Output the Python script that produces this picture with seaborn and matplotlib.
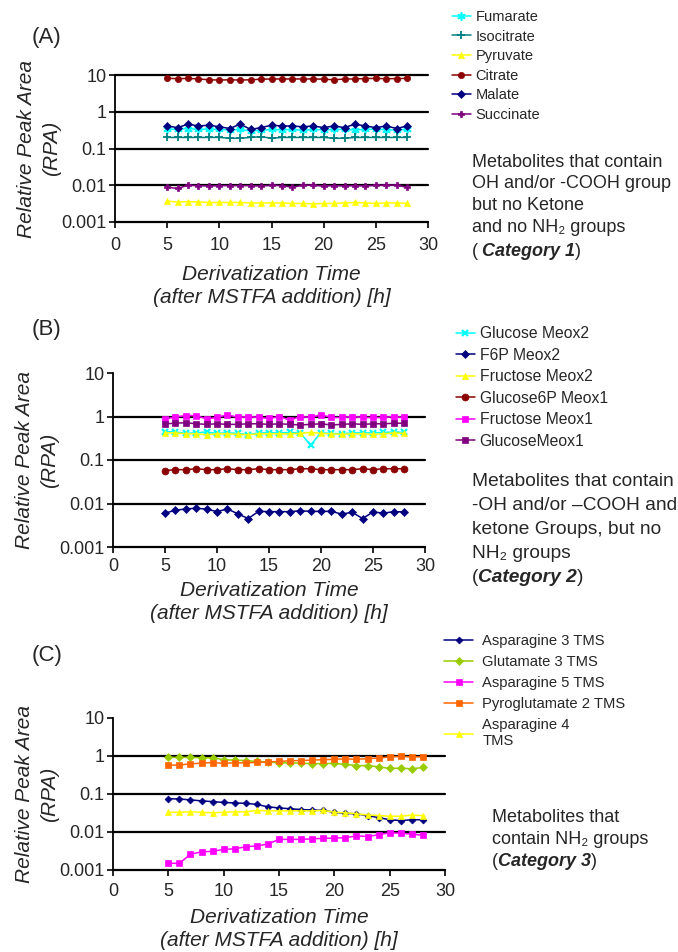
import matplotlib
matplotlib.use("Agg")
import matplotlib.pyplot as plt
from matplotlib.ticker import NullLocator
import seaborn as sns

# ---------------- data ----------------
time = list(range(5, 29))

# Panel A (Category 1)
fumarate = [0.34, 0.33, 0.35, 0.33, 0.34, 0.33, 0.32, 0.33, 0.30, 0.31, 0.33, 0.32,
            0.33, 0.31, 0.33, 0.32, 0.33, 0.33, 0.32, 0.33, 0.34, 0.32, 0.32, 0.33]
isocitrate = [0.20, 0.20, 0.20, 0.20, 0.20, 0.20, 0.19, 0.19, 0.20, 0.21, 0.19, 0.20,
              0.20, 0.20, 0.20, 0.20, 0.19, 0.19, 0.20, 0.20, 0.20, 0.20, 0.20, 0.20]
pyruvate = [0.0037, 0.0035, 0.0036, 0.0035, 0.0034, 0.0034, 0.0034, 0.0034, 0.0033, 0.0033,
            0.0033, 0.0033, 0.0032, 0.0032, 0.0031, 0.0032, 0.0032, 0.0033, 0.0034, 0.0033,
            0.0032, 0.0033, 0.0033, 0.0032]
citrate = [8.2, 7.9, 8.1, 7.8, 7.4, 7.3, 7.4, 7.3, 7.4, 7.7, 7.8, 7.8,
           7.8, 7.8, 7.8, 7.7, 7.4, 7.8, 7.8, 8.0, 8.1, 7.9, 8.0, 8.1]
malate = [0.41, 0.37, 0.46, 0.41, 0.43, 0.39, 0.35, 0.46, 0.33, 0.37, 0.43, 0.41,
          0.41, 0.39, 0.41, 0.37, 0.41, 0.37, 0.46, 0.41, 0.37, 0.41, 0.35, 0.41]
succinate = [0.0088, 0.0082, 0.0100, 0.0098, 0.0095, 0.0098, 0.0098, 0.0098, 0.0098, 0.0095,
             0.0100, 0.0098, 0.0088, 0.0100, 0.0100, 0.0095, 0.0098, 0.0095, 0.0098, 0.0095,
             0.0100, 0.0100, 0.0100, 0.0088]

# Panel B (Category 2)
glucose_meox2 = [0.45, 0.44, 0.41, 0.42, 0.44, 0.41, 0.42, 0.41, 0.38, 0.42, 0.42, 0.42,
                 0.43, 0.42, 0.22, 0.42, 0.41, 0.40, 0.42, 0.42, 0.42, 0.43, 0.44, 0.43]
f6p_meox2 = [0.0060, 0.0070, 0.0075, 0.0078, 0.0074, 0.0065, 0.0075, 0.0058, 0.0045, 0.0066,
             0.0065, 0.0065, 0.0065, 0.0068, 0.0066, 0.0066, 0.0066, 0.0057, 0.0063, 0.0045,
             0.0064, 0.0060, 0.0065, 0.0064]
fructose_meox2 = [0.42, 0.42, 0.40, 0.40, 0.38, 0.40, 0.40, 0.39, 0.38, 0.40, 0.40, 0.40,
                  0.40, 0.41, 0.43, 0.41, 0.40, 0.39, 0.40, 0.40, 0.39, 0.40, 0.42, 0.41]
glucose6p_meox1 = [0.057, 0.060, 0.060, 0.063, 0.060, 0.060, 0.063, 0.060, 0.060, 0.063, 0.060, 0.060,
                   0.060, 0.063, 0.063, 0.060, 0.060, 0.060, 0.060, 0.063, 0.060, 0.063, 0.063, 0.063]
fructose_meox1 = [0.88, 0.97, 1.05, 1.05, 0.88, 0.95, 1.10, 0.95, 1.00, 0.95, 0.90, 1.00,
                  0.82, 1.00, 0.95, 1.10, 0.95, 0.95, 1.00, 0.95, 0.95, 0.95, 1.00, 0.95]
glucosemeox1 = [0.68, 0.70, 0.72, 0.68, 0.66, 0.68, 0.66, 0.66, 0.68, 0.68, 0.66, 0.68,
                0.66, 0.64, 0.66, 0.68, 0.64, 0.66, 0.68, 0.66, 0.68, 0.68, 0.70, 0.70]

# Panel C (Category 3)
asparagine_3tms = [0.075, 0.074, 0.070, 0.066, 0.063, 0.060, 0.058, 0.057, 0.053, 0.046, 0.043, 0.041,
                   0.039, 0.038, 0.037, 0.033, 0.031, 0.030, 0.027, 0.024, 0.021, 0.020, 0.021, 0.021]
glutamate_3tms = [0.92, 0.92, 0.92, 0.90, 0.90, 0.80, 0.78, 0.76, 0.72, 0.70, 0.66, 0.66,
                  0.65, 0.63, 0.63, 0.64, 0.60, 0.56, 0.56, 0.52, 0.47, 0.48, 0.46, 0.50]
asparagine_5tms = [0.0015, 0.0015, 0.0026, 0.0030, 0.0031, 0.0035, 0.0036, 0.0041, 0.0043, 0.0048,
                   0.0064, 0.0064, 0.0064, 0.0066, 0.0068, 0.0069, 0.0071, 0.0079, 0.0076, 0.0085,
                   0.0095, 0.0093, 0.0088, 0.0082]
pyroglutamate_2tms = [0.57, 0.58, 0.62, 0.65, 0.67, 0.64, 0.66, 0.66, 0.68, 0.70, 0.72, 0.75,
                      0.76, 0.78, 0.80, 0.82, 0.84, 0.82, 0.85, 0.88, 0.95, 0.98, 0.95, 0.95]
asparagine_4tms = [0.033, 0.033, 0.034, 0.033, 0.032, 0.033, 0.034, 0.034, 0.037, 0.036, 0.036, 0.036,
                   0.036, 0.036, 0.037, 0.033, 0.032, 0.030, 0.028, 0.027, 0.026, 0.026, 0.028, 0.027]

names_a = ["Fumarate", "Isocitrate", "Pyruvate", "Citrate", "Malate", "Succinate"]
values_a = [fumarate, isocitrate, pyruvate, citrate, malate, succinate]
names_b = ["Glucose Meox2", "F6P Meox2", "Fructose Meox2", "Glucose6P Meox1",
           "Fructose Meox1", "GlucoseMeox1"]
values_b = [glucose_meox2, f6p_meox2, fructose_meox2, glucose6p_meox1, fructose_meox1, glucosemeox1]
names_c = ["Asparagine 3 TMS", "Glutamate 3 TMS", "Asparagine 5 TMS",
           "Pyroglutamate 2 TMS", "Asparagine 4\nTMS"]
values_c = [asparagine_3tms, glutamate_3tms, asparagine_5tms, pyroglutamate_2tms, asparagine_4tms]

ytick_vals = [0.001, 0.01, 0.1, 1, 10]
ytick_labels = ["0.001", "0.01", "0.1", "1", "10"]
xtick_vals = [0, 5, 10, 15, 20, 25, 30]

# ---------------- styles ----------------
styles_a = [("#00FFFF", (6, 2, 0), 6, 1.2), ("#008080", "+", 6, 1.3), ("#FFFF00", "^", 5, 0.5),
            ("#8B0000", "o", 4.5, 0.5), ("#000080", "D", 4, 0.5), ("#800080", "P", 5, 0.5)]
styles_b = [("#00FFFF", "x", 5, 1.6), ("#000080", "D", 4, 0.5), ("#FFFF00", "^", 5, 0.5),
            ("#8B0000", "o", 5, 0.5), ("#FF00FF", "s", 5, 0.5), ("#800080", "s", 4.5, 0.5)]
styles_c = [("#000080", "D", 3.5, 0.5), ("#99CC00", "D", 4, 0.5), ("#FF00FF", "s", 4.5, 0.5),
            ("#FF6600", "s", 4.5, 0.5), ("#FFFF00", "^", 5, 0.5)]

sns.set_style("ticks")
plt.rcParams["font.family"] = ["Liberation Sans", "DejaVu Sans"]

W, H = 678, 952
fig = plt.figure(figsize=(W / 100, H / 100), dpi=100)


def fx(px):
    return px / W


def fy(py):
    return 1 - py / H


def make_panel(rect, names, values, styles, top_grid, tick_pad, xlabelpad):
    l, t, r, b = rect
    ax = fig.add_axes([fx(l), fy(b), fx(r) - fx(l), fy(t) - fy(b)])
    for name, vals, (c, m, ms, mew) in zip(names, values, styles):
        sns.lineplot(x=time, y=vals, ax=ax, color=c, marker=m, markersize=ms,
                     markeredgecolor=c, markerfacecolor=c, markeredgewidth=mew,
                     linewidth=1.1, label=name, legend=False)
    ax.set_yscale("log")
    ax.set_ylim(0.001, 10)
    ax.set_xlim(0, 30)
    ax.set_yticks(ytick_vals)
    ax.set_yticklabels(ytick_labels)
    ax.yaxis.set_minor_locator(NullLocator())
    ax.set_xticks(xtick_vals)
    ax.set_xticklabels([str(v) for v in xtick_vals])
    ax.tick_params(axis="both", labelsize=13, direction="out", length=4, width=1.2,
                   color="black")
    ax.tick_params(axis="y", pad=2)
    ax.tick_params(axis="x", pad=tick_pad)
    ax.set_axisbelow(True)
    ax.yaxis.grid(True, color="black", linewidth=1.6)
    ax.xaxis.grid(False)
    for tk in ax.yaxis.get_major_ticks():
        tk.gridline.set_clip_on(False)
    if not top_grid:
        ax.yaxis.get_major_ticks()[-1].gridline.set_visible(False)
    sns.despine(ax=ax)
    for s in ("left", "bottom"):
        ax.spines[s].set_linewidth(1.3)
        ax.spines[s].set_color("black")
    ax.set_ylabel("Relative Peak Area\n(RPA)", fontsize=15, fontstyle="italic",
                  linespacing=1.35, labelpad=0.5)
    ax.set_xlabel("Derivatization Time\n(after MSTFA addition) [h]", fontsize=15,
                  fontstyle="italic", linespacing=1.3, labelpad=xlabelpad)
    return ax


ax_a = make_panel((115, 75, 428, 222), names_a, values_a, styles_a, True, 7, 7.5)
ax_b = make_panel((113, 373, 425, 547), names_b, values_b, styles_b, False, 4, 4)
ax_c = make_panel((113, 718, 445, 870), names_c, values_c, styles_c, False, 5, 6)


# legends
def place_legend(ax, x_px, y_px, size, hl, ls, htp):
    h, lab = ax.get_legend_handles_labels()
    ax.legend(h, lab, loc="upper left", bbox_to_anchor=(fx(x_px), fy(y_px)),
              bbox_transform=fig.transFigure, frameon=False, fontsize=size,
              handlelength=hl, handletextpad=htp, labelspacing=ls,
              borderpad=0, borderaxespad=0, numpoints=1)


place_legend(ax_a, 452, 10, 10.5, 1.3, 0.38, 0.3)
place_legend(ax_b, 456, 326, 11.3, 1.2, 0.42, 0.3)
place_legend(ax_c, 444, 634, 10.6, 2.0, 0.48, 0.6)

# panel letters
for lab, y in (("(A)", 37), ("(B)", 330), ("(C)", 655)):
    fig.text(fx(32), fy(y), lab, fontsize=16, va="center", ha="left")

renderer = fig.canvas.get_renderer()


def mixed_line(x_px, y_px, parts, size):
    x = fx(x_px)
    for txt, weight, style, gap in parts:
        t = fig.text(x + fx(gap), fy(y_px), txt, fontsize=size, fontweight=weight,
                     fontstyle=style, va="center", ha="left")
        bb = t.get_window_extent(renderer)
        x = bb.x1 / fig.bbox.width


def text_block(x_px, ys, lines, cat, size, cat_gap):
    for line, y in zip(lines, ys[:-1]):
        fig.text(fx(x_px), fy(y), line, fontsize=size, va="center", ha="left")
    mixed_line(x_px, ys[-1], [("(", "normal", "normal", 0),
                              (cat, "bold", "italic", cat_gap),
                              (")", "normal", "normal", 0)], size)


text_block(472, [162, 184, 205, 228, 251],
           ["Metabolites that contain", "OH and/or -COOH group", "but no Ketone",
            "and no NH\u2082 groups"], "Category 1", 13, 4)
text_block(472, [481, 506, 530, 554, 578],
           ["Metabolites that contain", "-OH and/or \u2013COOH and", "ketone Groups, but no",
            "NH\u2082 groups"], "Category 2", 13.8, 0)
text_block(492, [818, 840, 862],
           ["Metabolites that", "contain NH\u2082 groups"], "Category 3", 13, 0)

fig.savefig("out.png", dpi=100)
